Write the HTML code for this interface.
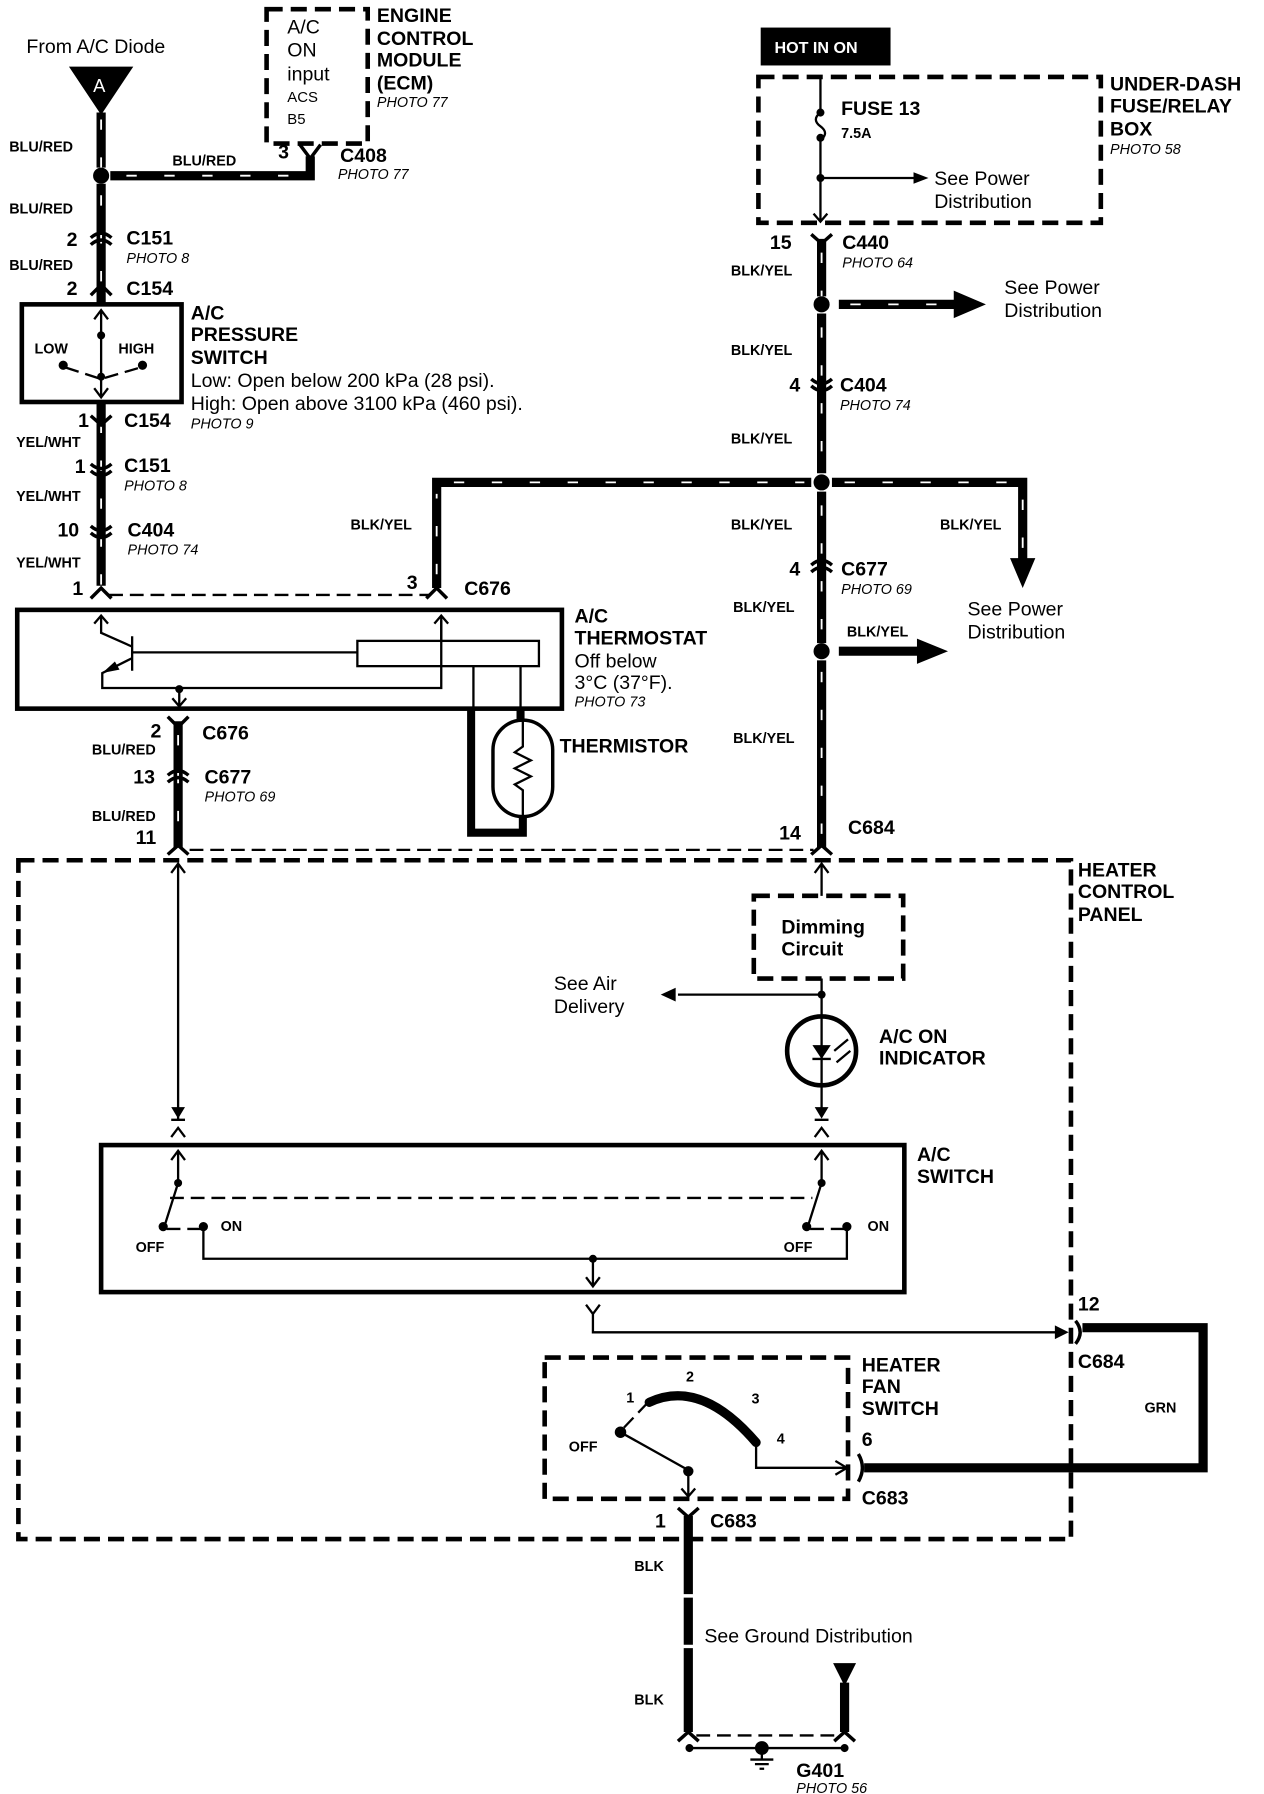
<!DOCTYPE html>
<html><head><meta charset="utf-8"><style>
html,body{margin:0;padding:0;background:#fff;}
svg{display:block;}
text{font-family:"Liberation Sans",Arial,sans-serif;fill:#000;}
.b{font-weight:bold;font-size:17px;}
.w{font-weight:bold;font-size:12.5px;}
.p{font-style:italic;font-size:12.5px;}
.r{font-size:17px;}
.wire{stroke:#000;stroke-width:8;fill:none;}
.sl{stroke:#fff;stroke-width:1.6;fill:none;stroke-dasharray:9 24;}
.thin{stroke:#000;stroke-width:2;fill:none;}
.dsh{stroke:#000;stroke-width:4;fill:none;stroke-dasharray:14 7;}
.dt{stroke:#000;stroke-width:2;fill:none;stroke-dasharray:12 6;}
.con{stroke:#000;stroke-width:3;fill:none;}
</style></head><body>
<svg width="1264" height="1794" viewBox="0 0 1100 1562" preserveAspectRatio="none" xmlns="http://www.w3.org/2000/svg">
<!-- ===== Top left ===== -->
<text x="23" y="46" class="r">From A/C Diode</text>
<polygon points="60,58 116,58 88,100" fill="#000"/>
<text x="81" y="80" style="font-size:16px;fill:#fff">A</text>
<path class="wire" d="M88,98 V146"/><path class="sl" d="M88,104 V146"/>
<circle cx="88" cy="153" r="7"/>
<path class="wire" d="M96,153 H270 V136"/><path class="sl" d="M110,153 H260"/>
<path class="con" d="M261,126 L270,138 L279,126"/>
<text x="8" y="132" class="w">BLU/RED</text>
<text x="150" y="144" class="w">BLU/RED</text>
<text x="242" y="138" class="b">3</text>
<text x="296" y="141" class="b">C408</text>
<text x="294" y="156" class="p">PHOTO 77</text>
<rect x="232" y="8" width="88" height="117" class="dsh"/>
<text x="250" y="29" class="r">A/C</text><text x="250" y="49" class="r">ON</text><text x="250" y="70" class="r">input</text>
<text x="250" y="89" style="font-size:13px">ACS</text><text x="250" y="108" style="font-size:13px">B5</text>
<text x="328" y="19" class="b">ENGINE</text><text x="328" y="39" class="b">CONTROL</text><text x="328" y="58" class="b">MODULE</text><text x="328" y="78" class="b">(ECM)</text>
<text x="328" y="93" class="p">PHOTO 77</text>

<path class="wire" d="M88,160 V510"/><path class="sl" d="M88,170 V510"/>
<g class="con">
<path d="M79,207 Q88,199 97,207"/><path d="M79,213 Q88,205 97,213"/>
<path d="M79,257 L88,248 L97,257"/>
<path d="M79,362 L88,370 L97,362"/>
<path d="M79,404 Q88,412 97,404"/><path d="M79,410 Q88,418 97,410"/>
<path d="M79,458 Q88,466 97,458"/><path d="M79,464 Q88,472 97,464"/>
<path d="M79,521 L88,512 L97,521"/>
</g>
<text x="8" y="186" class="w">BLU/RED</text>
<text x="58" y="214" class="b">2</text><text x="110" y="213" class="b">C151</text><text x="110" y="229" class="p">PHOTO 8</text>
<text x="8" y="235" class="w">BLU/RED</text>
<text x="58" y="257" class="b">2</text><text x="110" y="257" class="b">C154</text>
<rect x="19" y="265" width="139" height="85" fill="#fff" stroke="#000" stroke-width="4"/>
<path class="thin" d="M88,270 V345 M82,278 L88,270 L94,278 M82,338 L88,346 L94,338"/>
<circle cx="88" cy="292" r="3.5"/><circle cx="88" cy="328" r="3.5"/>
<circle cx="55" cy="318" r="4"/><circle cx="124" cy="318" r="4"/>
<path class="dt" d="M57,320 L88,330 L122,320" stroke-dasharray="5 4"/>
<text x="30" y="308" class="w">LOW</text><text x="103" y="308" class="w">HIGH</text>
<text x="166" y="278" class="b">A/C</text><text x="166" y="297" class="b">PRESSURE</text><text x="166" y="317" class="b">SWITCH</text>
<text x="166" y="337" class="r">Low: Open below 200 kPa (28 psi).</text>
<text x="166" y="357" class="r">High: Open above 3100 kPa (460 psi).</text>
<text x="68" y="372" class="b">1</text><text x="108" y="372" class="b">C154</text><text x="166" y="373" class="p">PHOTO 9</text>
<text x="14" y="389" class="w">YEL/WHT</text>
<text x="65" y="412" class="b">1</text><text x="108" y="411" class="b">C151</text><text x="108" y="427" class="p">PHOTO 8</text>
<text x="14" y="436" class="w">YEL/WHT</text>
<text x="50" y="467" class="b">10</text><text x="111" y="467" class="b">C404</text><text x="111" y="483" class="p">PHOTO 74</text>
<text x="14" y="494" class="w">YEL/WHT</text>
<text x="63" y="518" class="b">1</text>

<path class="dt" d="M95,518 H374"/>
<path class="wire" d="M380,512 V420 H706"/><path class="sl" d="M380,500 V430 M395,420 H700"/>
<path class="con" d="M371,521 L380,512 L389,521"/>
<text x="354" y="513" class="b">3</text><text x="404" y="518" class="b">C676</text>
<text x="305" y="461" class="w">BLK/YEL</text>

<!-- Thermostat -->
<rect x="15" y="531" width="474" height="86" fill="#fff" stroke="#000" stroke-width="4"/>
<g class="thin">
<path d="M88,536 V551 L115,563"/>
<path d="M82,543 L88,536 L94,543"/>
<path d="M115,554 V584 M115,568 H311"/>
<path d="M115,573 L89,586 V599 H384 V536"/>
<path d="M378,543 L384,536 L390,543"/>
<path d="M156,599 V615 M150,608 L156,615 L162,608"/>
<rect x="311" y="558" width="158" height="22"/>
<path d="M384,558 V540 M412,580 V617 M453,580 V617"/>
</g>
<circle cx="156" cy="600" r="3.5"/>
<polygon points="89,586 100,576 104,583" fill="#000"/>
<path d="M410,617 V725 H455 V712" stroke="#000" stroke-width="7" fill="none"/>
<path d="M453,617 V628" stroke="#000" stroke-width="7"/>
<rect x="429" y="627" width="52" height="84" rx="26" fill="#fff" stroke="#000" stroke-width="3"/>
<path class="thin" d="M455,627 V650 L448,655 L462,662 L448,669 L462,676 L448,683 L455,688 V711"/>
<text x="500" y="542" class="b">A/C</text><text x="500" y="561" class="b">THERMOSTAT</text>
<text x="500" y="581" class="r">Off below</text><text x="500" y="600" class="r">3°C (37°F).</text>
<text x="500" y="615" class="p">PHOTO 73</text>
<text x="487" y="655" class="b">THERMISTOR</text>

<path class="wire" d="M155,628 V738"/><path class="sl" d="M155,640 V735"/>
<g class="con">
<path d="M146,624 L155,633 L164,624"/>
<path d="M146,675 Q155,667 164,675"/><path d="M146,681 Q155,673 164,681"/>
<path d="M146,744 L155,736 L164,744"/>
</g>
<text x="131" y="642" class="b">2</text><text x="176" y="644" class="b">C676</text>
<text x="80" y="657" class="w">BLU/RED</text>
<text x="116" y="682" class="b">13</text><text x="178" y="682" class="b">C677</text><text x="178" y="698" class="p">PHOTO 69</text>
<text x="80" y="715" class="w">BLU/RED</text>
<text x="118" y="735" class="b">11</text>
<path class="dt" d="M165,740 H708"/>

<!-- ===== Top right ===== -->
<rect x="662" y="24" width="113" height="33" fill="#000"/>
<text x="674" y="46" style="font-size:14px;font-weight:bold;fill:#fff">HOT IN ON</text>
<rect x="660" y="67" width="298" height="127" class="dsh"/>
<path class="thin" d="M714,67 V98 Q706,104 714,110 Q722,116 714,122 V192 M714,155 H796 M708,186 L714,193 L720,186"/>
<polygon points="795,150 808,155 795,160" fill="#000"/>
<circle cx="714" cy="98" r="3.5"/><circle cx="714" cy="120" r="3.5"/><circle cx="714" cy="155" r="3.5"/>
<text x="732" y="100" class="b">FUSE 13</text><text x="732" y="120" class="w">7.5A</text>
<text x="813" y="161" class="r">See Power</text><text x="813" y="181" class="r">Distribution</text>
<text x="966" y="79" class="b">UNDER-DASH</text><text x="966" y="98" class="b">FUSE/RELAY</text><text x="966" y="118" class="b">BOX</text>
<text x="966" y="134" class="p">PHOTO 58</text>

<path class="wire" d="M715,208 V258 M715,273 V412 M715,428 V560 M715,575 V738"/>
<path class="sl" d="M715,220 V258 M715,285 V412 M715,440 V560 M715,585 V735"/>
<circle cx="715" cy="265" r="7"/><circle cx="715" cy="420" r="7"/><circle cx="715" cy="567" r="7"/>
<path class="wire" d="M730,265 H835"/><path class="sl" d="M740,265 H830" stroke-dasharray="14 10"/>
<polygon points="830,253 858,265 830,277" fill="#000"/>
<path class="wire" d="M724,420 H890 V490"/><path class="sl" d="M735,420 H885 M890,435 V485"/>
<polygon points="879,486 901,486 890,512" fill="#000"/>
<path class="wire" d="M730,567 H800"/>
<polygon points="798,556 825,567 798,578" fill="#000"/>
<g class="con">
<path d="M706,204 L715,212 L724,204"/>
<path d="M706,330 Q715,338 724,330"/><path d="M706,336 Q715,344 724,336"/>
<path d="M706,492 Q715,484 724,492"/><path d="M706,498 Q715,490 724,498"/>
<path d="M706,744 L715,736 L724,744"/>
</g>
<text x="670" y="217" class="b">15</text><text x="733" y="217" class="b">C440</text><text x="733" y="233" class="p">PHOTO 64</text>
<text x="636" y="240" class="w">BLK/YEL</text>
<text x="874" y="256" class="r">See Power</text><text x="874" y="276" class="r">Distribution</text>
<text x="636" y="309" class="w">BLK/YEL</text>
<text x="687" y="341" class="b">4</text><text x="731" y="341" class="b">C404</text><text x="731" y="357" class="p">PHOTO 74</text>
<text x="636" y="386" class="w">BLK/YEL</text>
<text x="636" y="461" class="w">BLK/YEL</text><text x="818" y="461" class="w">BLK/YEL</text>
<text x="687" y="501" class="b">4</text><text x="732" y="501" class="b">C677</text><text x="732" y="517" class="p">PHOTO 69</text>
<text x="638" y="533" class="w">BLK/YEL</text>
<text x="842" y="536" class="r">See Power</text><text x="842" y="556" class="r">Distribution</text>
<text x="737" y="554" class="w">BLK/YEL</text>
<text x="638" y="647" class="w">BLK/YEL</text>
<text x="678" y="731" class="b">14</text><text x="738" y="726" class="b">C684</text>

<!-- ===== Heater control panel ===== -->
<rect x="16" y="749" width="916" height="591" class="dsh"/>
<text x="938" y="763" class="b">HEATER</text><text x="938" y="782" class="b">CONTROL</text><text x="938" y="802" class="b">PANEL</text>
<path class="thin" d="M155,752 V968 M149,760 L155,752 L161,760 M155,968 V976"/>
<polygon points="149,964 161,964 155,974" fill="#000"/><path class="thin" d="M149,975 H161 M149,990 L155,982 L161,990"/>
<path class="thin" d="M715,752 V780 M709,760 L715,752 L721,760"/>
<rect x="656" y="780" width="130" height="72" class="dsh"/>
<text x="680" y="813" class="b">Dimming</text><text x="680" y="832" class="b">Circuit</text>
<path class="thin" d="M715,852 V968 M715,866 H590"/>
<polygon points="588,860 575,866 588,872" fill="#000"/>
<circle cx="715" cy="866" r="3.5"/>
<text x="482" y="862" class="r">See Air</text><text x="482" y="882" class="r">Delivery</text>
<circle cx="715" cy="915" r="30" fill="none" stroke="#000" stroke-width="4"/>
<polygon points="707,910 723,910 715,922" fill="#000"/><path class="thin" d="M707,922 H723 M726,915 L738,905 M728,925 L740,915"/>
<text x="765" y="908" class="b">A/C ON</text><text x="765" y="927" class="b">INDICATOR</text>
<polygon points="709,964 721,964 715,974" fill="#000"/><path class="thin" d="M709,975 H721 M709,990 L715,982 L721,990"/>

<rect x="88" y="997" width="699" height="128" fill="none" stroke="#000" stroke-width="4"/>
<text x="798" y="1011" class="b">A/C</text><text x="798" y="1030" class="b">SWITCH</text>
<g class="thin">
<path d="M155,1002 V1030 L143,1068 M149,1010 L155,1002 L161,1010"/>
<path d="M715,1002 V1030 L703,1068 M709,1010 L715,1002 L721,1010"/>
<path d="M177,1068 V1096 H737 V1068 M516,1096 V1120 M510,1112 L516,1120 L522,1112"/>
<path d="M510,1136 L516,1144 L522,1136 M516,1144 V1160 H920"/>
</g>
<path class="dt" d="M148,1043 H707 M145,1070 H175 M705,1070 H735" stroke-dasharray="8 5"/>
<circle cx="155" cy="1030" r="3.5"/><circle cx="715" cy="1030" r="3.5"/>
<circle cx="142" cy="1068" r="4"/><circle cx="177" cy="1068" r="4"/>
<circle cx="702" cy="1068" r="4"/><circle cx="737" cy="1068" r="4"/>
<circle cx="516" cy="1096" r="3.5"/>
<text x="118" y="1090" class="w">OFF</text><text x="192" y="1072" class="w">ON</text>
<text x="682" y="1090" class="w">OFF</text><text x="755" y="1072" class="w">ON</text>
<polygon points="918,1154 930,1160 918,1166" fill="#000"/>
<path class="con" d="M936,1150 Q944,1160 936,1170"/>
<text x="938" y="1141" class="b">12</text><text x="938" y="1191" class="b">C684</text>
<path class="wire" d="M942,1156 H1047 V1278 H752"/>
<text x="996" y="1230" class="w">GRN</text>
<path class="con" d="M747,1266 Q754,1278 747,1290"/>
<text x="750" y="1259" class="b">6</text><text x="750" y="1310" class="b">C683</text>

<rect x="474" y="1182" width="264" height="123" class="dsh"/>
<text x="750" y="1194" class="b">HEATER</text><text x="750" y="1213" class="b">FAN</text><text x="750" y="1232" class="b">SWITCH</text>
<path d="M565,1221 Q610,1200 658,1256" stroke="#000" stroke-width="8" fill="none" stroke-linecap="round"/>
<path class="thin" d="M658,1258 V1278 H735 M727,1272 L737,1278 L727,1284 M599,1280 L540,1247 M599,1282 V1303 M593,1296 L599,1303 L605,1296"/>
<path class="dt" d="M543,1243 L563,1222" stroke-dasharray="5 4"/>
<circle cx="540" cy="1247" r="5"/><circle cx="599" cy="1281" r="4.5"/>
<text x="545" y="1221" class="w">1</text><text x="597" y="1203" class="w">2</text><text x="654" y="1222" class="w">3</text><text x="676" y="1257" class="w">4</text>
<text x="495" y="1264" class="w">OFF</text>

<!-- Ground -->
<path class="wire" d="M599,1320 V1508"/>
<path d="M599,1388 V1391 M599,1432 V1435" stroke="#fff" stroke-width="9"/>
<path class="con" d="M590,1313 L599,1321 L608,1313"/>
<text x="570" y="1330" class="b">1</text><text x="618" y="1330" class="b">C683</text>
<text x="552" y="1368" class="w">BLK</text>
<text x="613" y="1430" class="r">See Ground Distribution</text>
<text x="552" y="1484" class="w">BLK</text>
<polygon points="725,1448 745,1448 735,1468" fill="#000"/>
<path class="wire" d="M735,1465 V1508"/>
<path class="con" d="M590,1516 L599,1508 L608,1516 M726,1516 L735,1508 L744,1516"/>
<path class="dt" d="M606,1511 H728" stroke-dasharray="8 5"/>
<path class="thin" d="M600,1522 H735"/>
<circle cx="600" cy="1522" r="3.5"/><circle cx="735" cy="1522" r="3.5"/>
<circle cx="663" cy="1522" r="6"/>
<path stroke="#000" stroke-width="2" d="M663,1522 V1532 M653,1532 H673 M657,1536 H669 M661,1540 H665"/>
<text x="693" y="1547" class="b">G401</text><text x="693" y="1561" class="p">PHOTO 56</text>
</svg>
</body></html>
